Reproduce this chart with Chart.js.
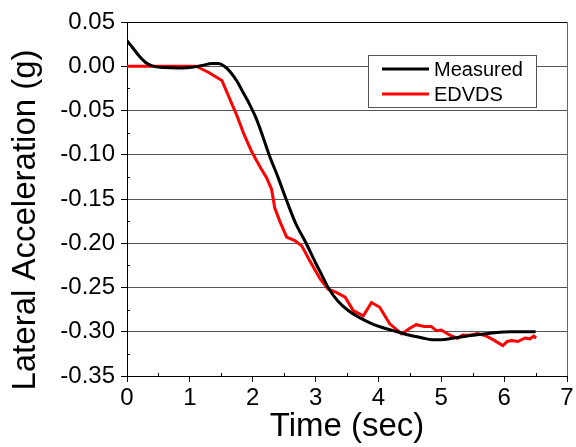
<!DOCTYPE html>
<html>
<head>
<meta charset="utf-8">
<script src="https://cdn.jsdelivr.net/npm/chart.js@4.4.1/dist/chart.umd.min.js"></script>
<style>
  html, body { margin: 0; padding: 0; background: #fff; }
  #chart { display: block; }
</style>
</head>
<body>
<canvas id="chart" width="576" height="447"></canvas>
<script>
// Measured lateral acceleration (g) vs time (sec)
const measuredTime = [0, 0.1, 0.2, 0.3, 0.4, 0.6, 0.8, 1.0, 1.2, 1.35, 1.45, 1.55, 1.65, 1.75, 1.85,
  1.95, 2.05, 2.15, 2.26, 2.4, 2.53, 2.68, 2.85, 3.0, 3.1, 3.2, 3.35, 3.52, 3.7, 3.9, 4.1, 4.3, 4.5,
  4.7, 4.85, 5.0, 5.2, 5.4, 5.6, 5.85, 6.1, 6.3, 6.5];
const measuredG = [0.029, 0.02, 0.011, 0.004, 0.0005, -0.0015, -0.002, -0.0015, 0.001, 0.003, 0.003,
  0.0, -0.007, -0.017, -0.030, -0.043, -0.058, -0.077, -0.100, -0.125, -0.150, -0.177, -0.200, -0.222,
  -0.236, -0.250, -0.265, -0.276, -0.284, -0.291, -0.296, -0.300, -0.304, -0.307, -0.309, -0.309,
  -0.307, -0.305, -0.303, -0.301, -0.300, -0.300, -0.300];

// EDVDS simulation
const edvdsTime = [0, 1.1, 1.3, 1.51, 1.75, 1.85, 1.98, 2.12, 2.22, 2.3, 2.35, 2.43, 2.54, 2.67, 2.78,
  2.91, 3.07, 3.2, 3.33, 3.47, 3.6, 3.76, 3.89, 4.02, 4.18, 4.37, 4.5, 4.6, 4.73, 4.84, 4.92, 5.0,
  5.13, 5.26, 5.34, 5.45, 5.58, 5.72, 5.85, 5.98, 6.05, 6.12, 6.22, 6.33, 6.41, 6.47, 6.51];
const edvdsG = [0, 0, -0.007, -0.016, -0.056, -0.075, -0.096, -0.114, -0.126, -0.139, -0.160, -0.175,
  -0.193, -0.197, -0.203, -0.220, -0.240, -0.252, -0.2555, -0.261, -0.276, -0.282, -0.267, -0.2724,
  -0.291, -0.3025, -0.296, -0.292, -0.294, -0.294, -0.2988, -0.298, -0.3036, -0.3074, -0.3036, -0.304,
  -0.302, -0.305, -0.310, -0.3157, -0.311, -0.310, -0.311, -0.307, -0.308, -0.305, -0.307];

const seriesLabels = ["Measured", "EDVDS"];
const xTitle = "Time (sec)";
const yTitle = "Lateral Acceleration (g)";

const FONT = "'Liberation Sans', Arial, sans-serif";

function toPoints(xs, ys) {
  return xs.map((x, i) => ({ x: x, y: ys[i] }));
}

// minor ticks, y-axis title and the boxed legend inside the plot
const decorPlugin = {
  id: "decor",
  afterDraw(chart) {
    const ctx = chart.ctx;
    const area = chart.chartArea;
    const xs = chart.scales.x;
    const ys = chart.scales.y;

    ctx.save();
    ctx.strokeStyle = "#000";
    ctx.lineWidth = 1;
    ctx.beginPath();
    for (let v = 0.5; v < 7; v += 1) {
      const px = Math.round(xs.getPixelForValue(v)) + 0.5;
      ctx.moveTo(px, area.bottom);
      ctx.lineTo(px, area.bottom - 3);
    }
    for (let v = -0.325; v < 0.05; v += 0.05) {
      const py = Math.round(ys.getPixelForValue(v)) + 0.5;
      ctx.moveTo(area.left, py);
      ctx.lineTo(area.left + 3, py);
    }
    ctx.stroke();

    // y title
    ctx.fillStyle = "#000";
    ctx.font = "33px " + FONT;
    ctx.textAlign = "center";
    ctx.textBaseline = "alphabetic";
    ctx.translate(35, 220);
    ctx.rotate(-Math.PI / 2);
    ctx.fillText(yTitle, 0, 0);
    ctx.restore();

    // legend
    ctx.save();
    const box = { x: 368.5, y: 55.5, w: 168, h: 52 };
    ctx.fillStyle = "#fff";
    ctx.fillRect(box.x, box.y, box.w, box.h);
    ctx.strokeStyle = "#555";
    ctx.lineWidth = 1;
    ctx.strokeRect(box.x, box.y, box.w, box.h);
    ctx.font = "20px " + FONT;
    ctx.textBaseline = "middle";
    ctx.textAlign = "left";
    chart.data.datasets.forEach((ds, i) => {
      const ly = 69 + i * 25;
      ctx.strokeStyle = ds.borderColor;
      ctx.lineWidth = 3;
      ctx.beginPath();
      ctx.moveTo(382, ly);
      ctx.lineTo(429, ly);
      ctx.stroke();
      ctx.fillStyle = "#000";
      ctx.fillText(ds.label, 434, ly + 1);
    });
    ctx.restore();
  },
};

new Chart(document.getElementById("chart"), {
  type: "line",
  data: {
    datasets: [
      {
        label: seriesLabels[0],
        data: toPoints(measuredTime, measuredG),
        borderColor: "#000000",
        borderWidth: 3,
        pointRadius: 0,
        cubicInterpolationMode: "monotone",
      },
      {
        label: seriesLabels[1],
        data: toPoints(edvdsTime, edvdsG),
        borderColor: "#ff0000",
        borderWidth: 3,
        pointRadius: 0,
        tension: 0,
      },
    ],
  },
  options: {
    responsive: false,
    animation: false,
    events: [],
    layout: { padding: { top: 22, right: 9, left: 0, bottom: 0 } },
    plugins: {
      legend: { display: false },
      tooltip: { enabled: false },
    },
    scales: {
      x: {
        type: "linear",
        min: 0,
        max: 7,
        afterFit(scale) {
          scale.height = 71;
        },
        ticks: {
          stepSize: 1,
          color: "#000",
          font: { family: FONT, size: 24 },
          padding: 2,
          maxRotation: 0,
        },
        grid: {
          color: (c) => (c.tick && c.tick.value === 7 ? "#666" : "rgba(0,0,0,0)"),
          tickColor: "#000",
          tickLength: 6,
        },
        border: { color: "#000", width: 1 },
        title: {
          display: true,
          text: xTitle,
          color: "#000",
          font: { family: FONT, size: 33 },
          padding: { top: 0, bottom: 0 },
        },
      },
      y: {
        min: -0.35,
        max: 0.05,
        afterFit(scale) {
          scale.width = 127;
        },
        ticks: {
          stepSize: 0.05,
          color: "#000",
          font: { family: FONT, size: 24 },
          padding: 6,
          callback: (v) => Number(v).toFixed(2),
        },
        grid: {
          color: (c) => (c.tick && c.tick.value > 0.04 ? "#000" : "#555"),
          tickColor: "#000",
          tickLength: 6,
        },
        border: { color: "#000", width: 1 },
      },
    },
  },
  plugins: [decorPlugin],
});
</script>
</body>
</html>
